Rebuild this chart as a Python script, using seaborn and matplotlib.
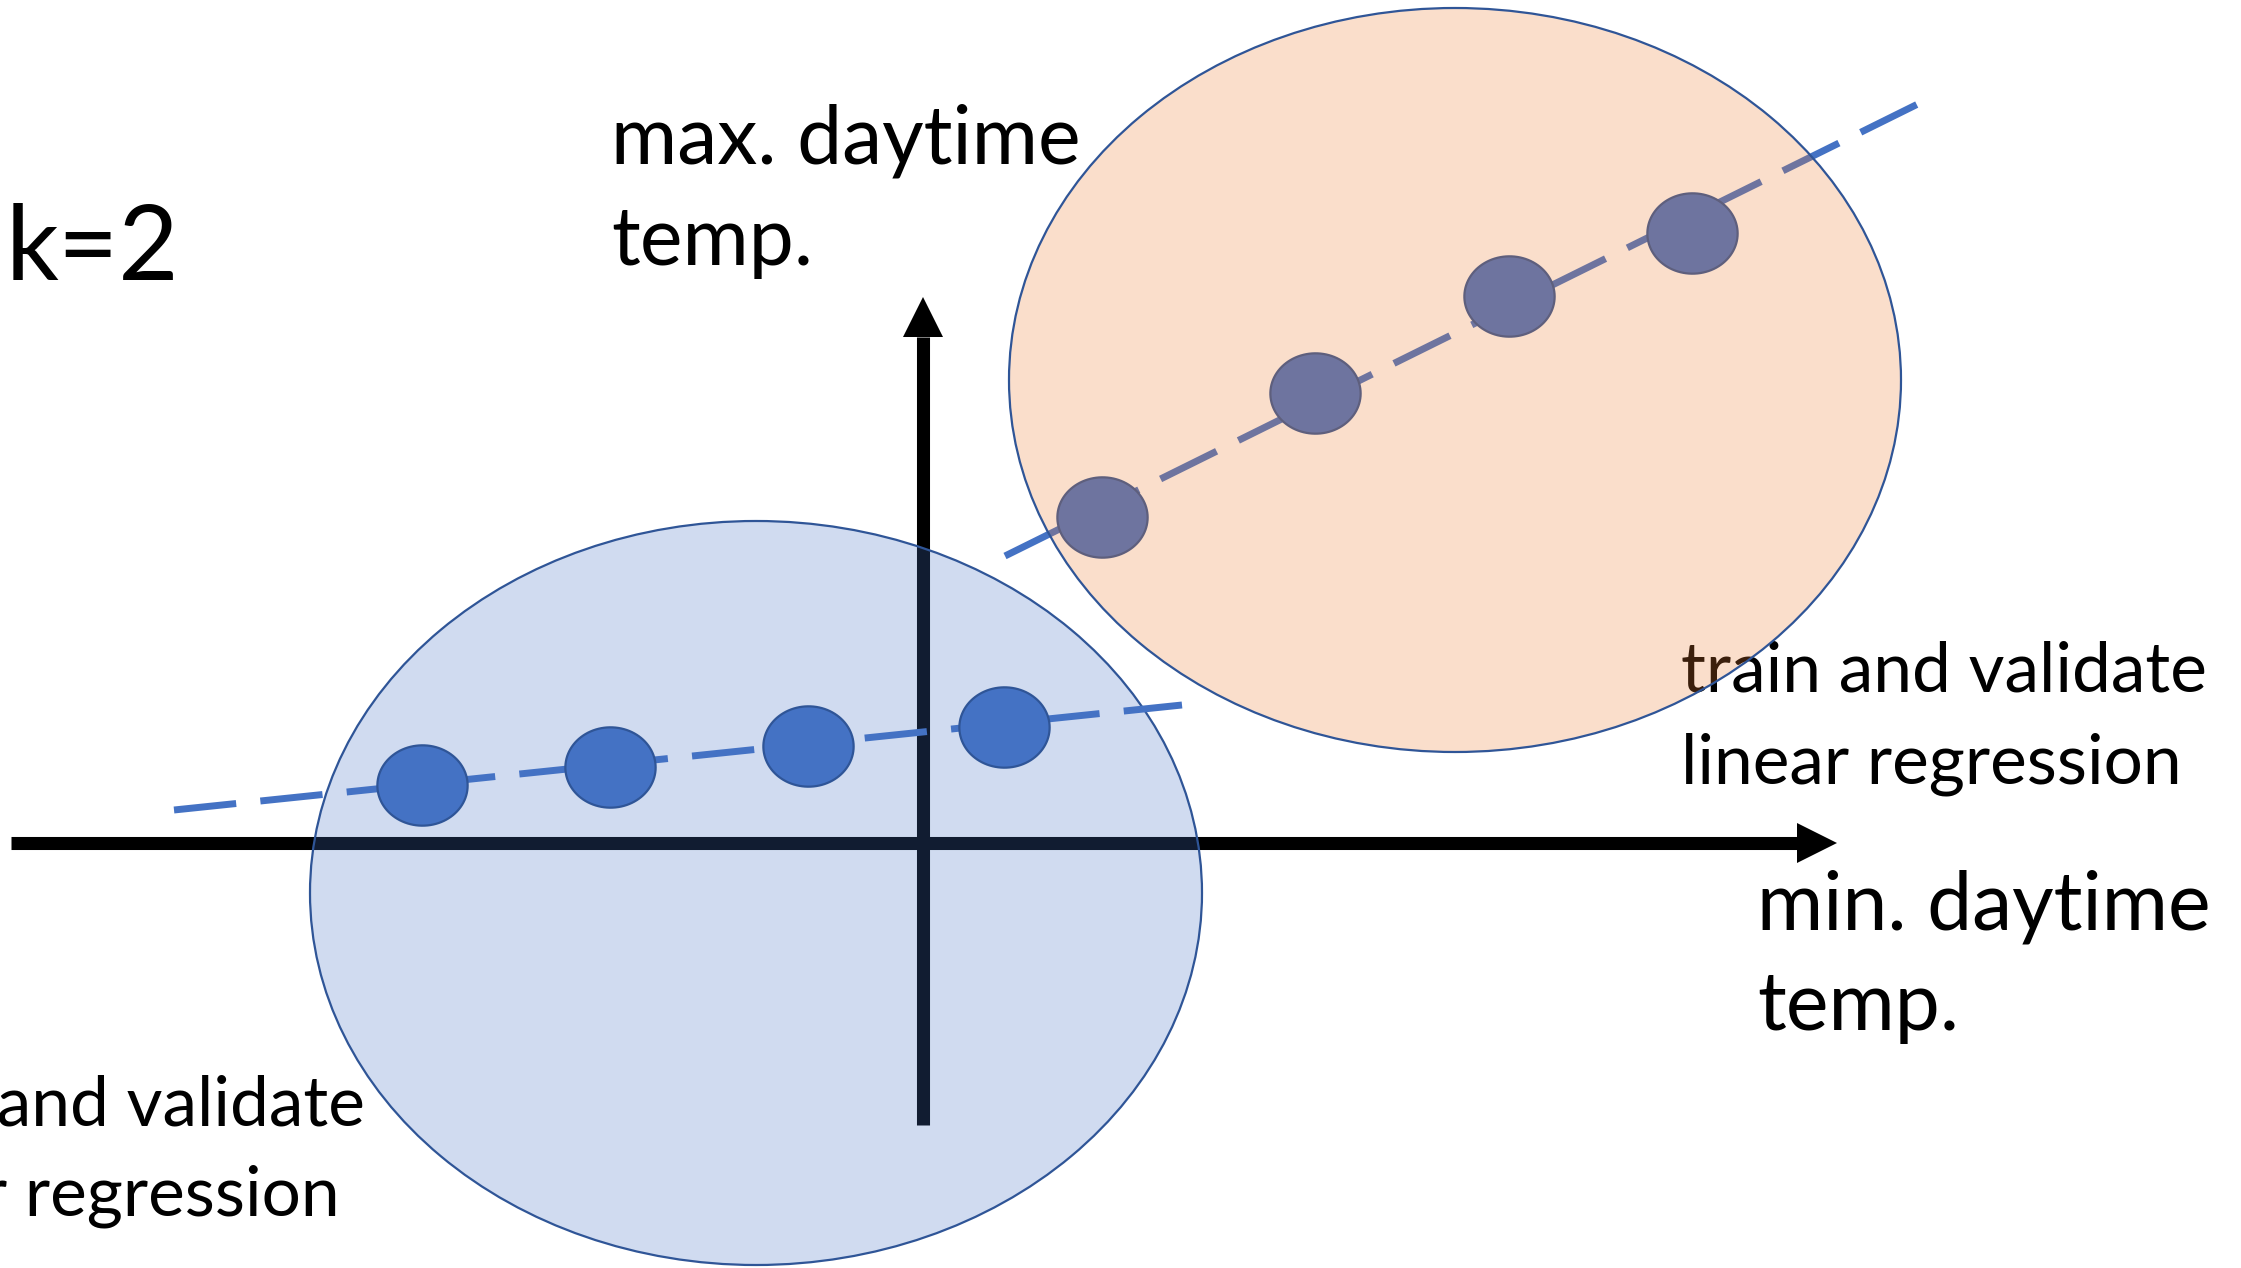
import numpy as np
import matplotlib
matplotlib.use("Agg")
import matplotlib.pyplot as plt
from matplotlib.patches import Ellipse
from matplotlib.path import Path
import seaborn as sns

# canvas is in pixels of the 2241x1268 picture (y down)
W, H = 2241, 1268

# axis arrows
x_axis_y = 843
x_axis_from, x_axis_to = 11, 1837
y_axis_x = 923
y_axis_from, y_axis_to = 1125, 297
head_len, head_half = 40, 20

# clusters (centre x, centre y), both same size
cluster_x = [756, 1455]
cluster_y = [893, 380]
cluster_w, cluster_h = 892, 744

# points of the two clusters
low_x = [422, 610, 808, 1004]
low_y = [785, 767, 746, 727]
high_x = [1102, 1315, 1509, 1692]
high_y = [517, 393, 296, 233]

# fitted lines (two end points each)
low_fit_x = [174, 1182]
low_fit_y = [810, 705]
high_fit_x = [1005, 1932]
high_fit_y = [556, 97]

# labels: (text, x, baseline y, size)
labels = [
    ("k=2", 6, 280, 75),
    ("max. daytime", 611, 163, 58),
    ("temp.", 611, 265, 58),
    ("min. daytime", 1757, 930, 58),
    ("temp.", 1757, 1030, 58),
    ("train and validate", 1681, 692, 50),
    ("linear regression", 1681, 783, 50),
    ("train and validate", -161, 1125, 50),
    ("linear regression", -161, 1215, 50),
]

BLUE = "#4472C4"
EDGE = "#2F5597"
ORANGE = "#ED7D31"

sns.set_theme(style="white")
plt.rcParams["font.family"] = ["Lato", "DejaVu Sans"]

fig = plt.figure(figsize=(W / 100, H / 100), dpi=100)
ax = fig.add_axes([0, 0, 1, 1])
ax.set_xlim(0, W)
ax.set_ylim(H, 0)
ax.axis("off")

# axes with arrow heads
ax.plot([x_axis_from, x_axis_to - head_len], [x_axis_y, x_axis_y],
        color="black", lw=9.4, solid_capstyle="butt", zorder=1)
ax.fill([x_axis_to - head_len, x_axis_to, x_axis_to - head_len],
        [x_axis_y - head_half, x_axis_y, x_axis_y + head_half],
        color="black", lw=0, zorder=1)
ax.plot([y_axis_x, y_axis_x], [y_axis_from, y_axis_to + head_len],
        color="black", lw=9.4, solid_capstyle="butt", zorder=1)
ax.fill([y_axis_x - head_half, y_axis_x, y_axis_x + head_half],
        [y_axis_to + head_len, y_axis_to, y_axis_to + head_len],
        color="black", lw=0, zorder=1)

# lower cluster (drawn over the axes)
ax.add_patch(Ellipse((cluster_x[0], cluster_y[0]), cluster_w, cluster_h,
                     facecolor=(*matplotlib.colors.to_rgb(BLUE), 0.25),
                     edgecolor=EDGE, lw=1.6, zorder=2))

dash = (0, (9, 3.5))
sns.lineplot(x=low_fit_x, y=low_fit_y, ax=ax, color=BLUE, lw=5,
             linestyle=dash, zorder=3, sort=False)
sns.lineplot(x=high_fit_x, y=high_fit_y, ax=ax, color=BLUE, lw=5,
             linestyle=dash, zorder=3, sort=False)

# slightly flattened circle as marker
t = np.linspace(0, 2 * np.pi, 100)
dot = Path(np.column_stack([np.cos(t), 0.89 * np.sin(t)]), closed=True)

sns.scatterplot(x=low_x, y=low_y, ax=ax, marker=dot, s=65 ** 2,
                color=BLUE, edgecolor=EDGE, linewidth=1.6, zorder=4)
sns.scatterplot(x=high_x, y=high_y, ax=ax, marker=dot, s=65 ** 2,
                color=BLUE, edgecolor=EDGE, linewidth=1.6, zorder=4)

for txt, x, y, size in labels:
    ax.text(x, y, txt, fontsize=size, ha="left", va="baseline",
            color="black", zorder=5)

# upper cluster sits on top, see-through
ax.add_patch(Ellipse((cluster_x[1], cluster_y[1]), cluster_w, cluster_h,
                     facecolor=(*matplotlib.colors.to_rgb(ORANGE), 0.25),
                     edgecolor=EDGE, lw=1.6, zorder=6))

ax.set_xlim(0, W)
ax.set_ylim(H, 0)
fig.savefig("out.png", dpi=100)
